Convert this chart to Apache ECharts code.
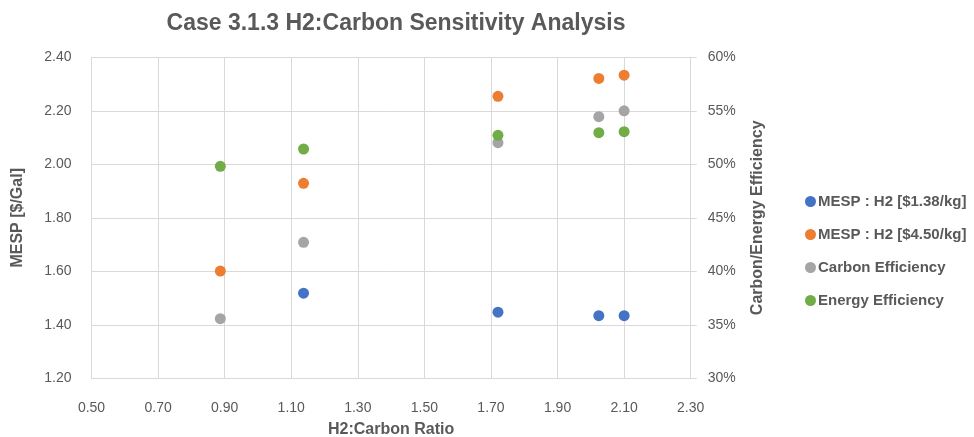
<!DOCTYPE html>
<html>
<head>
<meta charset="utf-8">
<script src="https://cdn.jsdelivr.net/npm/echarts@6/dist/echarts.min.js"></script>
<style>
  html, body { margin: 0; padding: 0; background: #fff; }
  #chart { width: 974px; height: 437px; }
</style>
</head>
<body>
<div id="chart"></div>
<script>
// H2:Carbon ratio for each case
const h2CarbonRatio = [0.887, 1.137, 1.721, 2.024, 2.100];

// Minimum ethanol selling price ($/gal) at two hydrogen prices
const mespH2Low = [null, 1.518, 1.447, 1.434, 1.434];
const mespH2High = [1.601, 1.929, 2.254, 2.321, 2.333];

// Efficiencies (fraction)
const carbonEfficiency = [0.3557, 0.4271, 0.5202, 0.5445, 0.5500];
const energyEfficiency = [0.4981, 0.5143, 0.5271, 0.5295, 0.5305];

const seriesNames = [
  'MESP : H2 [$1.38/kg]',
  'MESP : H2 [$4.50/kg]',
  'Carbon Efficiency',
  'Energy Efficiency'
];
const seriesColors = ['#4472C4', '#ED7D31', '#A5A5A5', '#70AD47'];

const leftTicks = { min: 1.2, max: 2.4, step: 0.2 };
const rightTicks = { min: 0.30, max: 0.60, step: 0.05 };
const xTicks = { min: 0.5, max: 2.3, step: 0.2 };

function pairs(values) {
  const out = [];
  values.forEach(function (v, i) {
    if (v !== null) out.push([h2CarbonRatio[i], v]);
  });
  return out;
}

const font = '"Liberation Sans", Arial, sans-serif';
const textGray = '#595959';
const gridGray = '#D9D9D9';

const chart = echarts.init(document.getElementById('chart'), null, { renderer: 'canvas' });

const allValues = [mespH2Low, mespH2High, carbonEfficiency, energyEfficiency];

chart.setOption({
  animation: false,
  backgroundColor: '#fff',
  textStyle: { fontFamily: font },
  title: {
    text: 'Case 3.1.3 H2:Carbon Sensitivity Analysis',
    left: 391,
    top: 7,
    textAlign: 'center',
    textStyle: { fontFamily: font, fontSize: 23, fontWeight: 'bold', color: textGray }
  },
  grid: {
    left: 91.5, right: 283.3, top: 57.3, bottom: 58.7,
    containLabel: false,
    outerBoundsMode: 'none'
  },
  legend: {
    orient: 'vertical',
    left: 800,
    top: 189,
    itemGap: 18,
    itemWidth: 11,
    itemHeight: 11,
    icon: 'circle',
    textStyle: { fontFamily: font, fontSize: 15, fontWeight: 'bold', color: textGray, padding: [0, 0, 0, -3] },
    data: seriesNames
  },
  xAxis: {
    type: 'value',
    min: xTicks.min,
    max: xTicks.max,
    interval: xTicks.step,
    name: 'H2:Carbon Ratio',
    nameLocation: 'middle',
    nameGap: 43,
    nameTextStyle: { fontFamily: font, fontSize: 16, fontWeight: 'bold', color: textGray },
    axisLine: { show: true, lineStyle: { color: gridGray, width: 1 } },
    axisTick: { show: false },
    axisLabel: {
      color: textGray, fontSize: 14, margin: 23,
      formatter: function (v) { return v.toFixed(2); }
    },
    splitLine: { show: true, lineStyle: { color: gridGray, width: 1 } }
  },
  yAxis: [
    {
      type: 'value',
      min: leftTicks.min,
      max: leftTicks.max,
      interval: leftTicks.step,
      name: 'MESP [$/Gal]',
      nameLocation: 'middle',
      nameGap: 66,
      nameRotate: 90,
      nameTextStyle: { fontFamily: font, fontSize: 16, fontWeight: 'bold', color: textGray },
      axisLine: { show: true, lineStyle: { color: gridGray, width: 1 } },
      axisTick: { show: false },
      axisLabel: {
        color: textGray, fontSize: 14, margin: 20,
        formatter: function (v) { return v.toFixed(2); }
      },
      splitLine: { show: true, lineStyle: { color: gridGray, width: 1 } }
    },
    {
      type: 'value',
      position: 'right',
      min: rightTicks.min,
      max: rightTicks.max,
      interval: rightTicks.step,
      name: 'Carbon/Energy Efficiency',
      nameLocation: 'middle',
      nameGap: 59,
      nameRotate: 90,
      nameTextStyle: { fontFamily: font, fontSize: 16, fontWeight: 'bold', color: textGray },
      axisLine: { show: true, lineStyle: { color: gridGray, width: 1 } },
      axisTick: { show: true, inside: false, length: 6, lineStyle: { color: gridGray } },
      axisLabel: {
        color: textGray, fontSize: 14, margin: 17,
        formatter: function (v) { return Math.round(v * 100) + '%'; }
      },
      splitLine: { show: false }
    }
  ],
  series: seriesNames.map(function (name, i) {
    return {
      name: name,
      type: 'scatter',
      yAxisIndex: i < 2 ? 0 : 1,
      symbol: 'circle',
      symbolSize: 11,
      itemStyle: { color: seriesColors[i], opacity: 1 },
      emphasis: { disabled: true },
      data: pairs(allValues[i])
    };
  })
});
</script>
</body>
</html>
